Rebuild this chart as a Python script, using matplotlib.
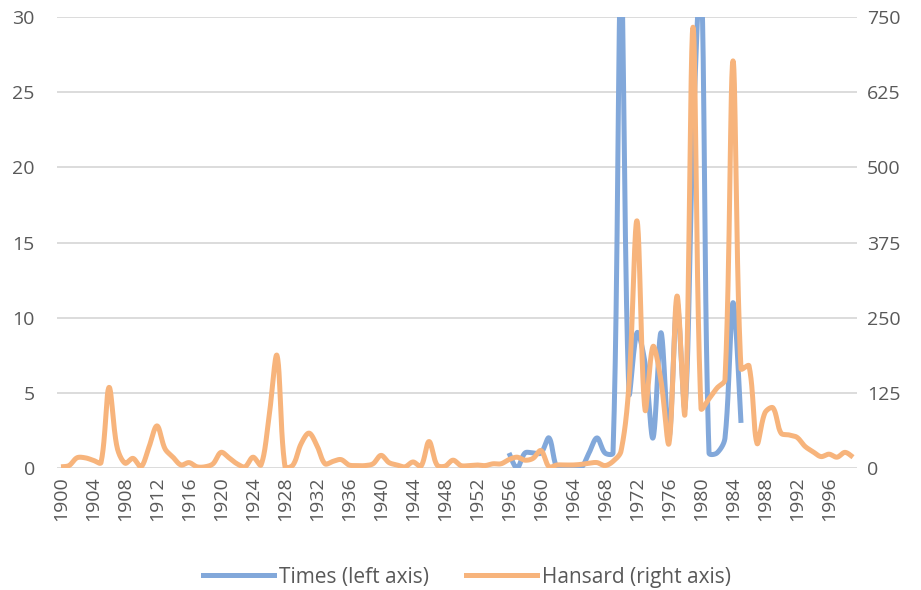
import numpy as np
import matplotlib
matplotlib.use("Agg")
import matplotlib.pyplot as plt
from matplotlib.lines import Line2D

#%% data
years = list(range(1900, 2000))

hansard = [
    2, 4, 17, 17, 13, 9, 134, 35, 8, 16,          # 1900s
    2, 35, 70, 32, 18, 5, 9, 2, 2, 7,             # 1910s
    26, 17, 7, 2, 18, 5, 85, 187, 2, 5,           # 1920s
    40, 58, 37, 7, 11, 14, 5, 4, 4, 7,            # 1930s
    21, 9, 5, 2, 10, 3, 44, 5, 3, 13,             # 1940s
    4, 4, 5, 4, 7, 7, 14, 18, 13, 16,             # 1950s
    29, 2, 5, 5, 5, 6, 8, 9, 4, 11,               # 1960s
    28, 140, 411, 97, 202, 145, 41, 286, 91, 733,  # 1970s
    99, 115, 133, 147, 677, 165, 170, 41, 92, 100,  # 1980s
    58, 55, 51, 36, 27, 19, 23, 18, 26, 18,        # 1990s
]

times_years = list(range(1956, 1986))
times = [
    1, 0, 1, 1, 1, 2, 0, 0, 0, 0,
    1, 2, 1, 1, 33, 5, 9, 7, 2, 9,
    2, 11, 4, 22, 33, 1, 1, 2, 11, 3,
]

left_ticks = [0, 5, 10, 15, 20, 25, 30]
right_ticks = [0, 125, 250, 375, 500, 625, 750]
label_years = years[::4]

BLUE = "#82A8DA"
ORANGE = "#F7B47C"
GREY = "#595959"


#%% helpers
def smooth_line(x, y, sx, sy, steps=24):
    # bezier smoothing like the spreadsheet "smoothed line" option;
    # arms are weighted by segment length (in pixels) to avoid overshoot
    x = np.asarray(x, dtype=float)
    y = np.asarray(y, dtype=float)
    px, py = x * sx, y * sy
    n = len(x)
    seg = np.hypot(np.diff(px), np.diff(py))
    fwd = np.zeros((n, 2))
    bwd = np.zeros((n, 2))
    for i in range(n):
        if i == 0:
            d = np.array([px[1] - px[0], py[1] - py[0]])
            fwd[i] = d / 6
        elif i == n - 1:
            d = np.array([px[i] - px[i - 1], py[i] - py[i - 1]])
            bwd[i] = d / 6
        else:
            d = np.array([px[i + 1] - px[i - 1], py[i + 1] - py[i - 1]])
            tot = seg[i - 1] + seg[i]
            fwd[i] = d * seg[i] / tot / 3
            bwd[i] = d * seg[i - 1] / tot / 3
    t = np.linspace(0, 1, steps + 1)[1:, None]
    out = [np.array([[px[0], py[0]]])]
    for i in range(n - 1):
        p0 = np.array([px[i], py[i]])
        p3 = np.array([px[i + 1], py[i + 1]])
        c1 = p0 + fwd[i]
        c2 = p3 - bwd[i + 1]
        b = (1 - t) ** 3 * p0 + 3 * (1 - t) ** 2 * t * c1 + 3 * (1 - t) * t ** 2 * c2 + t ** 3 * p3
        out.append(b)
    pts = np.vstack(out)
    return pts[:, 0] / sx, pts[:, 1] / sy


#%% plot
plt.rcParams["font.family"] = ["Open Sans", "DejaVu Sans"]
plt.rcParams["font.size"] = 14

W, H = 921, 590
fig = plt.figure(figsize=(W / 100, H / 100), dpi=100)
ax = fig.add_axes([57 / W, 1 - 468 / H, 800 / W, 451 / H])
ax2 = ax.twinx()

ax.set_xlim(1899.5, 1999.5)
ax.set_ylim(0, 30)
ax2.set_ylim(0, 750)

ax.set_yticks(left_ticks)
ax2.set_yticks(right_ticks)
ax.set_xticks(label_years)
ax.set_xticklabels([str(y) for y in label_years], rotation=90)

ax.yaxis.grid(True, color="#d9d9d9", linewidth=1.3)
ax.set_axisbelow(True)

for a in (ax, ax2):
    for s in a.spines.values():
        s.set_visible(False)

ax.tick_params(axis="y", length=0, pad=16, labelcolor=GREY, labelsize=14)
ax2.tick_params(axis="y", length=0, pad=7, labelcolor=GREY, labelsize=14)
ax.tick_params(axis="x", length=0, pad=6, labelcolor=GREY, labelsize=14)

# pixels per data unit, so the smoothing works in screen space
px_year = 8.0
tx, ty = smooth_line(times_years, times, px_year, 451 / 30)
ax.plot(tx, ty, color=BLUE, linewidth=3.6, solid_capstyle="butt", solid_joinstyle="round")

hx, hy = smooth_line(years, hansard, px_year, 451 / 750)
ax2.plot(hx, hy, color=ORANGE, linewidth=3.6, solid_capstyle="butt", solid_joinstyle="round")

handles = [
    Line2D([], [], color=BLUE, linewidth=3.6),
    Line2D([], [], color=ORANGE, linewidth=3.6),
]
leg = fig.legend(handles, ["Times (left axis)", "Hansard (right axis)"],
                 loc="center", bbox_to_anchor=(467 / W, 1 - 577 / H), ncol=2,
                 frameon=False, fontsize=15, handlelength=3.4, handletextpad=0.25,
                 columnspacing=1.8)
for t in leg.get_texts():
    t.set_color(GREY)

fig.savefig("out.png", dpi=100)
